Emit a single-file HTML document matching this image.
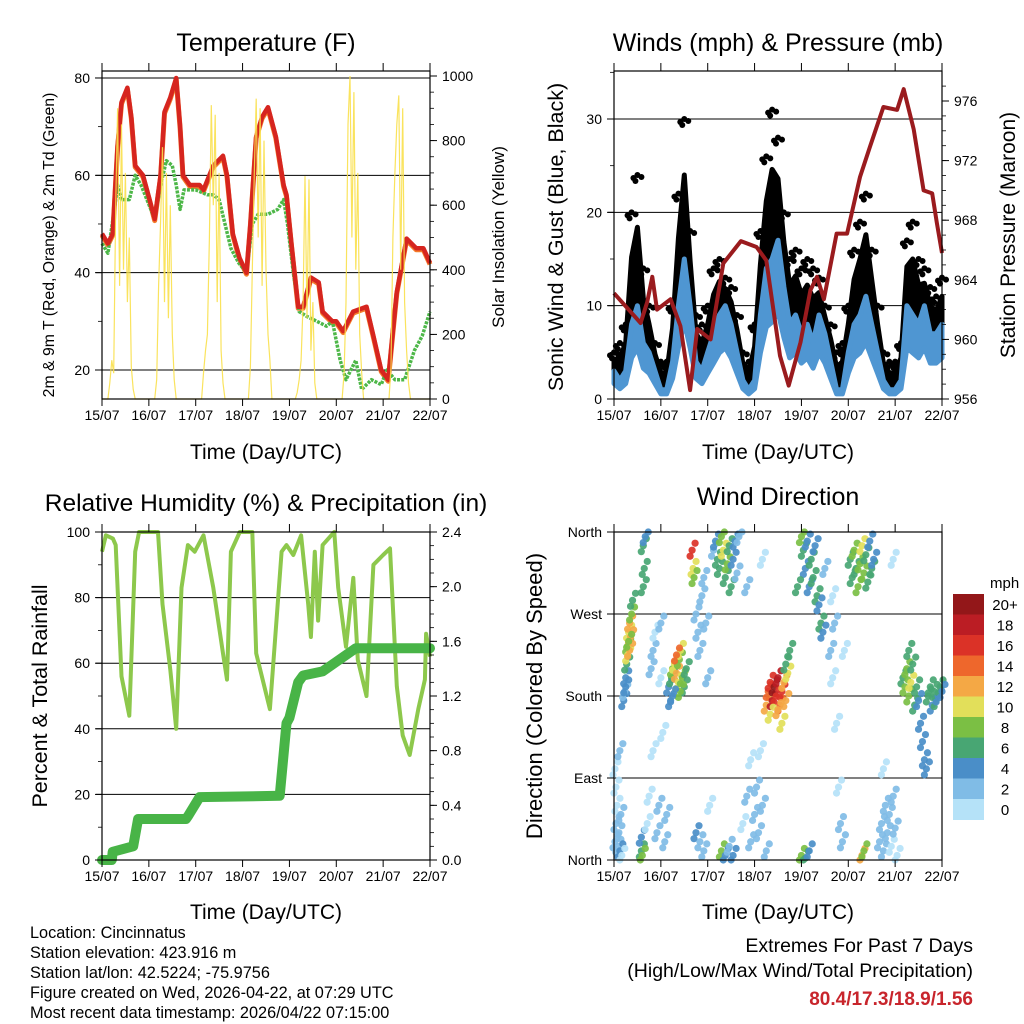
<!DOCTYPE html>
<html><head><meta charset="utf-8"><title>Station Meteogram</title>
<style>
html,body{margin:0;padding:0;background:#fff;}
svg{display:block;font-family:"Liberation Sans",Arial,sans-serif;}
</style></head>
<body>
<svg id="chart" width="1024" height="1024" viewBox="0 0 1024 1024">
<text x="266" y="51" font-size="25" text-anchor="middle">Temperature (F)</text>
<text x="778" y="51" font-size="25" text-anchor="middle">Winds (mph) &amp; Pressure (mb)</text>
<text x="266" y="511" font-size="24.5" text-anchor="middle">Relative Humidity (%) &amp; Precipitation (in)</text>
<text x="778" y="505" font-size="25" text-anchor="middle">Wind Direction</text>
<text x="266" y="459" font-size="21" text-anchor="middle">Time (Day/UTC)</text>
<text x="778" y="459" font-size="21" text-anchor="middle">Time (Day/UTC)</text>
<text x="266" y="919" font-size="21" text-anchor="middle">Time (Day/UTC)</text>
<text x="778" y="919" font-size="21" text-anchor="middle">Time (Day/UTC)</text>
<text transform="translate(54,245) rotate(-90)" font-size="15.8" text-anchor="middle">2m &amp; 9m T (Red, Orange) &amp; 2m Td (Green)</text>
<text transform="translate(504,237) rotate(-90)" font-size="17" text-anchor="middle">Solar Insolation (Yellow)</text>
<text transform="translate(563,237) rotate(-90)" font-size="21.5" text-anchor="middle">Sonic Wind &amp; Gust (Blue, Black)</text>
<text transform="translate(1015,235) rotate(-90)" font-size="21" text-anchor="middle">Station Pressure (Maroon)</text>
<text transform="translate(47,696) rotate(-90)" font-size="21.5" text-anchor="middle">Percent &amp; Total Rainfall</text>
<text transform="translate(542,696) rotate(-90)" font-size="22" text-anchor="middle">Direction (Colored By Speed)</text>
<g font-size="16.3">
<text x="30" y="938">Location: Cincinnatus</text>
<text x="30" y="958">Station elevation: 423.916 m</text>
<text x="30" y="978">Station lat/lon: 42.5224; -75.9756</text>
<text x="30" y="998">Figure created on Wed, 2026-04-22, at 07:29 UTC</text>
<text x="30" y="1018">Most recent data timestamp: 2026/04/22 07:15:00</text>
</g>
<text x="973" y="952" font-size="19.5" text-anchor="end">Extremes For Past 7 Days</text>
<text x="973" y="977" font-size="19.5" text-anchor="end">(High/Low/Max Wind/Total Precipitation)</text>
<text x="973" y="1005" font-size="19" font-weight="bold" fill="#c8252c" text-anchor="end">80.4/17.3/18.9/1.56</text>
</svg>
<script>
const dayLabels = ["15/07","16/07","17/07","18/07","19/07","20/07","21/07","22/07"];
const tempHours = [0,3,5.5,8,10,13,15,17,21,24.4,27,30,32,35,38,40,41.5,45,50,52,57,62,64,67,70.5,74,76,79,82,85,89,93,94.5,97,100.5,103,107,111,113,118,120,123.5,128.6,135.5,139,143,146.6,149,151,156,161,164.6,168];
const tempVals  = [48,46,48,66,75,78,72,62,60,55,51,60,73,76,80,70,60,58,58,57,62,64,60,48,43,40,50,68,72,74,68,58,56,46,33,33,39,38,32,30,30,28,32,33,27,20,18,28,36,47,45,45,42];
const tdHours = [0,3,6,8,10,14,17,20,24,27,30,33,36,38,40,42,48,54,57,60,63,66,70,74,77,80,85,90,93,95,98,101,105,110,115,118,122,125,130,133,138,143,146,150,155,160,164,168];
const tdVals  = [46,44,52,58,55,55,60,58,54,51,58,63,62,58,53,57,57,56,56,55,50,45,42,40,50,52,52,53,55,50,40,32,31,30,29,30,22,18,22,16,18,17,20,18,18,24,27,32];
const solarVals = [0,0,0,0,50,120,80,600,900,350,850,400,700,300,500,100,30,0,0,0,0,0,0,0,
0,0,0,0,60,350,550,780,300,700,250,600,200,60,0,0,0,0,0,0,0,0,0,0,
0,0,0,0,80,150,200,500,910,600,880,300,700,150,50,0,0,0,0,0,0,0,0,0,
0,0,0,0,100,400,700,930,500,900,350,800,400,200,120,0,0,0,0,0,0,0,0,0,
0,0,0,0,20,60,120,300,690,250,680,150,300,50,0,0,0,0,0,0,0,0,0,0,
0,0,0,0,80,300,850,1000,500,950,400,700,200,80,0,0,0,0,0,0,0,0,0,0,
0,0,0,0,100,500,700,850,940,400,900,300,150,50,0,0,0,0,0,0,0,0,0,0,0];
const windHours = [0,3,6,9,12,15,18,21,24,27,30,33,36,39,42,45,48,51,54,57,60,63,66,69,72,75,78,81,84,87,90,93,96,99,102,105,108,111,114,117,120,123,126,129,132,135,138,141,144,147,150,153,156,159,162,165,168];
const windVals = [3,2,3,8,10,6,5,3,1,1,4,10,15,10,4,3,5,7,9,10,8,5,2,1,2,9,14,15,17,12,8,9,7,8,6,9,7,4,1,1,5,8,9,11,8,5,2,1,1,2,10,9,8,10,7,7,8];
const gustVals = [5,6,8,20,24,14,10,6,4,4,10,22,30,18,9,8,10,14,15,13,12,9,5,4,8,18,26,31,28,20,15,16,14,15,14,13,10,8,5,6,10,16,19,22,16,10,5,4,4,6,17,19,15,14,12,11,13];
const presHours = [0,13.6,17,19.6,22,29,34,39,42.6,49.5,56,65,73,78,85,89.5,95.5,100.6,104,107.5,114,119.4,126,131,138,145,148.4,153.5,158.6,163,165.4,168];
const presVals  = [963.1,961.1,962.5,964.2,962,962.7,960.9,956.6,960.7,960,965.1,966.6,966.2,965.3,958.9,956.9,959.8,963.3,964.2,962.7,967.1,967.1,970.9,972.9,975.6,975.4,976.8,974.1,970,969.8,967.8,965.8];
const rhHours = [0,2,5.6,7,10,14,17,19,28.7,31,35,38,40.7,44,47.5,52,57,62,64,66,70.6,77,79,86,92,94.5,98,102,105.6,107,109,110.7,113,119,121,125,128.7,131,135.5,139,144,147.5,151,154,157.6,162,165.4,166,168];
const rhVals  = [94,99,98,96,56,44,94,100,100,78,58,40,83,96,94,99,83,63,55,94,100,100,63,46,94,96,93,99,78,68,94,73,96,100,83,65,86,61,50,90,93,95,53,38,32,46,55,69,62];
const rainHours = [0,5,5.5,16,18.5,43,44,50,91,94.5,96,100.5,103,113,120,130,168];
const rainVals  = [0,0,0.06,0.1,0.3,0.3,0.32,0.46,0.47,1.0,1.04,1.3,1.35,1.38,1.45,1.55,1.55];
const wdHours = [0.5,1,1.5,2,2.5,3,3.5,4,1,0.5,3, 5,5.5,6,6.5,7,7.5,8,8.5,9,9.5,6,7,8,7.5, 14,14.5,15,15.5,15,16,14, 17,18,19,20,21,22,23,24,25,26,27,20,24, 28,29,29.5,30,31,32,33,33.5,34,35,36,37,32,34,30, 40,40.5,41,42,43,44,45,46,47,48,42,44,46,49, 51,52,53,54,55,56,57,58,59,60,61,62,63,55,57,59,61,64, 66,68,70,72,74,76,78,73,70,75,68,76, 78,79,80,81,82,83,84,85,86,87,88,89,80,84,88,90,86, 96,97,98,99,100,101,102,103,104,105,106,107,108,96,98,100,94, 111,112,113,114,115,116,117,118,112, 121,122,123,124,125,126,127,128,129,130,131,132,133,127,128, 136,137,138,139,140,141,142,143,144,145,138,143, 148,149,150,151,152,153,154,155,156,157,158,159,160,151, 161,162,163,164,165,166,167,168];
const wdDirs = [20,40,60,15,30,10,50,5,80,100,120, 175,185,200,215,235,250,260,245,270,285,190,225,230,240, 10,5,300,320,345,355,25, 40,70,210,230,250,30,60,200,140,20,50,120,260, 190,175,200,210,215,205,195,220,230,200,190,210,225,185,180, 340,320,310,270,250,230,290,310,260,200,30,20,10,60, 340,350,330,320,355,340,310,325,345,300,330,350,315,10,5,15,5,355, 40,70,20,50,30,60,10,80,110,120,300,330, 170,185,195,175,190,180,200,170,185,195,175,205,160,165,215,230,150, 355,340,320,350,300,330,310,345,290,280,260,250,320,5,2,10,300, 230,200,260,150,80,40,20,230,290, 330,310,340,320,300,325,345,315,335,305,350,320,330,5,10, 20,40,10,60,30,50,15,70,35,5,100,330, 200,190,210,180,195,215,170,190,175,150,130,110,100,230, 180,190,170,185,175,180,190,185];
const wdSpeeds = [3,2,1,3,2,4,2,1,1,0,2, 4,3,5,6,8,10,12,13,8,7,4,11,12,9, 6,8,6,6,6,4,5, 1,1,2,2,1,2,2,1,1,3,2,1,2, 4,5,6,8,10,12,11,9,10,8,6,7,14,9,4, 16,10,8,3,3,2,2,2,2,2,4,2,3,1, 3,5,6,7,8,10,7,8,6,6,5,4,3,8,5,3,4,2, 1,2,3,3,3,2,3,2,1,1,2,1, 12,15,16,18,20,17,19,14,16,13,12,10,11,13,7,6,10, 9,6,5,4,4,7,6,4,6,5,6,5,3,8,6,5,6, 2,1,2,1,1,2,2,1,1, 6,7,8,7,9,8,10,8,6,7,5,6,4,12,9, 2,3,2,2,3,2,1,2,3,1,1,1, 7,8,9,8,10,7,6,6,5,4,4,5,4,7, 6,6,5,7,6,5,6,5];
const speedColors = ["#b5e2f8","#80bce6","#4a8ec8","#48a673","#7bbf44","#e2df5a","#f4a845","#ee672c","#db3227","#bb1d24","#931719"];
const speedLabels = ["0","2","4","6","8","10","12","14","16","18","20+"];
const dirLabels = ["North","East","South","West","North"];

const NS = "http://www.w3.org/2000/svg";
const svg = document.getElementById("chart");
function mk(tag, attrs, parent){
  const e = document.createElementNS(NS, tag);
  for (const k in attrs) e.setAttribute(k, attrs[k]);
  (parent || svg).appendChild(e);
  return e;
}
function pts(xs, ys, fx, fy){ return xs.map((h,i)=>fx(h).toFixed(1)+","+fy(ys[i]).toFixed(1)).join(" "); }
function bandPts(hs, hi, lo, fx, fy){
  return hs.map((h,i)=>fx(h).toFixed(1)+","+fy(hi[i]).toFixed(1)).join(" ") + " " +
    hs.slice().reverse().map((h,j)=>{const i=hs.length-1-j; return fx(h).toFixed(1)+","+fy(lo[i]).toFixed(1);}).join(" ");
}

const P1 = {x0:102,x1:430,y0:71,y1:399}, P2 = {x0:614,x1:942,y0:71,y1:399};
const P3 = {x0:102,x1:430,y0:532,y1:860}, P4 = {x0:614,x1:942,y0:532,y1:860};
function xs(P){ return h => P.x0 + h/168*(P.x1-P.x0); }

function frameAndXAxis(P, name){
  const g = mk("g", {});
  
  
  const X = xs(P);
  dayLabels.forEach((lab,i)=>{
    const x = X(i*24);
    mk("line",{x1:x,x2:x,y1:P.y1,y2:P.y1+7,stroke:"#000","stroke-width":1},g);
    mk("line",{x1:x,x2:x,y1:P.y0,y2:P.y0-8,stroke:"#000","stroke-width":1},g);
    const t = mk("text",{x:x,y:P.y1+21,"font-size":14,"text-anchor":"middle"},g);
    t.textContent = lab;
    
    
  });
  const r = mk("rect",{x:P.x0,y:P.y0,width:P.x1-P.x0,height:P.y1-P.y0,fill:"none",stroke:"#000","stroke-width":1.2},g);
  
  
  return g;
}
function yAxis(P, side, vals, fy, labels, minors, name){
  const g = mk("g", {});
  
  
  const x = side==="left" ? P.x0 : P.x1;
  const d = side==="left" ? -1 : 1;
  minors.forEach(v=>{ const y=fy(v); mk("line",{x1:x,x2:x+d*4,y1:y,y2:y,stroke:"#000","stroke-width":0.8},g); });
  vals.forEach((v,i)=>{
    const y = fy(v);
    mk("line",{x1:x,x2:x+d*7,y1:y,y2:y,stroke:"#000","stroke-width":1},g);
    const t = mk("text",{x:x+d*12,y:y+5,"font-size":14,"text-anchor":side==="left"?"end":"start"},g);
    t.textContent = labels[i];
    
    
  });
}
function grid(P, vals, fy, name){
  vals.forEach(v=>{
    const y = fy(v);
    const l = mk("line",{x1:P.x0-6,x2:P.x1,y1:y,y2:y,stroke:"#000","stroke-width":1});
    
    
  });
}
function range(a,b,s){ const r=[]; for(let v=a; v<=b+1e-9; v+=s) r.push(+v.toFixed(3)); return r; }

// ---------- Panel 1: temperature ----------
{
  const X = xs(P1);
  const yT = v => 399 - (v-14.04)*4.867;
  const yS = v => 399 - v*0.323;
  grid(P1,[20,40,60,80],yT,'temp-gridline');
  const orange = mk("polyline",{points:pts(tempHours,tempVals,X,v=>yT(v)+1.5),fill:"none",stroke:"#f47a2a","stroke-width":5,"stroke-linejoin":"round"});
  
  
  const td = mk("polyline",{points:pts(tdHours,tdVals,X,yT),fill:"none",stroke:"#4db748","stroke-width":3.5,"stroke-dasharray":"3 1.2","stroke-linejoin":"round"});
  
  
  const red = mk("polyline",{points:pts(tempHours,tempVals,X,yT),fill:"none",stroke:"#d6251f","stroke-width":4.5,"stroke-linejoin":"round"});
  
  
  const sh = solarVals.map((v,i)=>i);
  const sol = mk("polyline",{points:pts(sh,solarVals,X,yS),fill:"none",stroke:"#f9e04b","stroke-width":1.2,opacity:0.9});
  
  
  frameAndXAxis(P1,'temperature');
  yAxis(P1,"left",[20,40,60,80],yT,["20","40","60","80"],[30,50,70],'temp-y-axis');
  yAxis(P1,"right",[0,200,400,600,800,1000],yS,["0","200","400","600","800","1000"],range(0,1000,50),'solar-y-axis');
}
// ---------- Panel 2: winds ----------
{
  const X = xs(P2);
  const yW = v => 399 - v*9.333;
  const yP = p => 399 - (p-956)*14.9;
  grid(P2,[10,20,30],yW,'wind-gridline');
  const midGust = gustVals.map((g,i)=>windVals[i]+(g-windVals[i])*0.6);
  const bp = mk("polygon",{points:bandPts(windHours,midGust,windVals,X,yW),fill:"#000",stroke:"#000","stroke-width":5,"stroke-linejoin":"round"});
  
  
  windHours.forEach((h,i)=>{
    [[-4,3],[0,0],[4,2],[-2,6]].forEach(o=>{
      const c = mk("circle",{cx:X(h)+o[0],cy:yW(gustVals[i])+o[1],r:3,fill:"#000"});
      
      
    });
  });
  const lowBlue = windVals.map(v=>v*0.55);
  const bb = mk("polygon",{points:bandPts(windHours,windVals,lowBlue,X,yW),fill:"#4f96d2",stroke:"#4f96d2","stroke-width":5,"stroke-linejoin":"round"});
  
  
  const pl = mk("polyline",{points:pts(presHours,presVals,X,yP),fill:"none",stroke:"#9a1b1e","stroke-width":4,"stroke-linejoin":"round"});
  
  
  frameAndXAxis(P2,'winds');
  yAxis(P2,"left",[0,10,20,30],yW,["0","10","20","30"],[5,15,25,35],'wind-y-axis');
  yAxis(P2,"right",[956,960,964,968,972,976],yP,["956","960","964","968","972","976"],range(956,977,1),'pressure-y-axis');
}
// ---------- Panel 3: humidity ----------
{
  const X = xs(P3);
  const yR = v => 860 - v*3.28;
  const yPr = v => 860 - v/2.4*328;
  grid(P3,[20,40,60,80,100],yR,'humidity-gridline');
  const rh = mk("polyline",{points:pts(rhHours,rhVals,X,yR),fill:"none",stroke:"#8dc84c","stroke-width":4,"stroke-linejoin":"round"});
  
  
  const rn = mk("polyline",{points:pts(rainHours,rainVals,X,yPr),fill:"none",stroke:"#48b447","stroke-width":10,"stroke-linejoin":"round","stroke-linecap":"round"});
  
  
  frameAndXAxis(P3,'humidity');
  yAxis(P3,"left",[0,20,40,60,80,100],yR,["0","20","40","60","80","100"],range(10,90,20),'humidity-y-axis');
  yAxis(P3,"right",[0,0.4,0.8,1.2,1.6,2.0,2.4],yPr,["0.0","0.4","0.8","1.2","1.6","2.0","2.4"],range(0,2.4,0.1),'precip-y-axis');
}
// ---------- Panel 4: wind direction ----------
{
  const X = xs(P4);
  const yD = d => 860 - d/360*328;
  grid(P4,[0,90,180,270,360],yD,'direction-gridline');
  const offs = [[0,0],[3,-7],[-2,6]];
  wdHours.forEach((h,i)=>{
    const idx = Math.max(0, Math.min(10, Math.floor(wdSpeeds[i]/2)));
    offs.forEach(o=>{
      const c = mk("circle",{cx:X(h)+o[0],cy:Math.min(860,Math.max(532,yD(wdDirs[i])+o[1])),r:3.6,fill:speedColors[idx],opacity:0.92});
      
      
    });
  });
  frameAndXAxis(P4,'direction');
  yAxis(P4,"left",[0,90,180,270,360],yD,dirLabels,[],'direction-y-axis');
  const lg = mk("g",{});
  
  
  const top = 594, bh = 20.5;
  for (let k=0;k<11;k++){
    const idx = 10-k;
    const r = mk("rect",{x:953,y:top+k*bh,width:31,height:bh+0.5,fill:speedColors[idx]},lg);
    
    
    const t = mk("text",{x:1005,y:top+k*bh+16,"font-size":15,"text-anchor":"middle"},lg);
    t.textContent = speedLabels[idx];
    
    
  }
  const u = mk("text",{x:990,y:588,"font-size":15},lg);
  u.textContent = "mph";
  
  
}
</script>
</body></html>
